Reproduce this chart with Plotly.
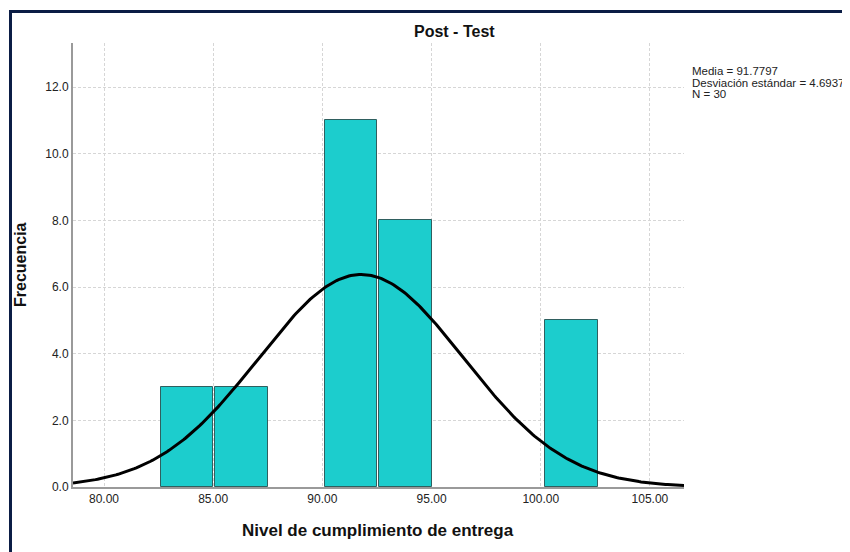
import numpy as np
import plotly.graph_objects as go

# Data
bin_centers = [83.8, 86.3, 91.3, 93.8, 101.4]
counts = [3, 3, 11, 8, 5]
mean = 91.7797
std = 4.69372
n = 30
bin_width = 2.5
x_ticks = [80, 85, 90, 95, 100, 105]
y_ticks = [0, 2, 4, 6, 8, 10, 12]
stats_lines = [f"Media = {mean}", f"Desviación estándar = {std}", f"N = {n}"]

OFF = 8  # browser body margin
W, H = 850 - OFF, 552 - OFF
L, R, T, B = 73 - OFF, 684 - OFF, 43 - OFF, 487 - OFF
xr = [78.58, 106.56]
yr = [0, 13.32]

def px(x):
    return (x - OFF - L) / (R - L)

def py(y):
    return (B - (y - OFF)) / (B - T)

xs = np.linspace(xr[0], xr[1], 300)
ys = n * bin_width * np.exp(-0.5 * ((xs - mean) / std) ** 2) / (std * np.sqrt(2 * np.pi))

fig = go.Figure()
fig.add_trace(go.Bar(x=bin_centers, y=counts, width=2.4,
                     marker=dict(color="#1ccdcd", line=dict(color="#2f5f5f", width=1)),
                     showlegend=False, hoverinfo="skip"))
fig.add_trace(go.Scatter(x=xs, y=ys, mode="lines", line=dict(color="black", width=3),
                         showlegend=False, hoverinfo="skip"))

fnt = "Liberation Sans, Arial, sans-serif"
annotations = [
    dict(text="<b>Post - Test</b>", x=px(454), y=py(31), xref="paper", yref="paper",
         showarrow=False, font=dict(size=16, family=fnt, color="#111111"),
         xanchor="center", yanchor="middle"),
    dict(text="<b>Frecuencia</b>", x=px(20), y=py(265), xref="paper", yref="paper",
         showarrow=False, textangle=-90, font=dict(size=16, family=fnt, color="#111111"),
         xanchor="center", yanchor="middle"),
    dict(text="<b>Nivel de cumplimiento de entrega</b>", x=px(378), y=py(530),
         xref="paper", yref="paper", showarrow=False,
         font=dict(size=17, family=fnt, color="#111111"),
         xanchor="center", yanchor="middle"),
]
for i, line in enumerate(stats_lines):
    annotations.append(dict(text=line, x=px(690), y=py(71 + 11.5 * i), xref="paper",
                            yref="paper", showarrow=False, xanchor="left", yanchor="middle",
                            font=dict(size=11.5, family=fnt, color="#222222")))

fig.update_layout(
    width=W, height=H,
    margin=dict(l=L, r=W - R, t=T, b=H - B, pad=0),
    paper_bgcolor="white", plot_bgcolor="white",
    font=dict(family=fnt, color="#222222", size=12),
    bargap=0,
    xaxis=dict(range=xr, tickvals=x_ticks, ticktext=[f"{v:.2f}" for v in x_ticks],
               showgrid=True, gridcolor="#d6d6d6", griddash="3px,2px", gridwidth=1,
               showline=True, linecolor="#9a9a9a", linewidth=2, ticks="", zeroline=False,
               tickfont=dict(size=12, family=fnt, color="#222222")),
    yaxis=dict(range=yr, tickvals=y_ticks, ticktext=[f"{v:.1f}" for v in y_ticks],
               showgrid=True, gridcolor="#d6d6d6", griddash="3px,2px", gridwidth=1,
               showline=True, linecolor="#9a9a9a", linewidth=2, ticks="", zeroline=False,
               tickfont=dict(size=12, family=fnt, color="#222222")),
    annotations=annotations,
    shapes=[
        dict(type="line", xref="paper", yref="paper", x0=px(10.5), x1=px(10.5),
             y0=py(10), y1=py(570), line=dict(color="#0b1d45", width=3)),
        dict(type="line", xref="paper", yref="paper", x0=px(9), x1=px(870),
             y0=py(11.5), y1=py(11.5), line=dict(color="#0b1d45", width=3)),
    ],
)

fig.write_html("out.html")
